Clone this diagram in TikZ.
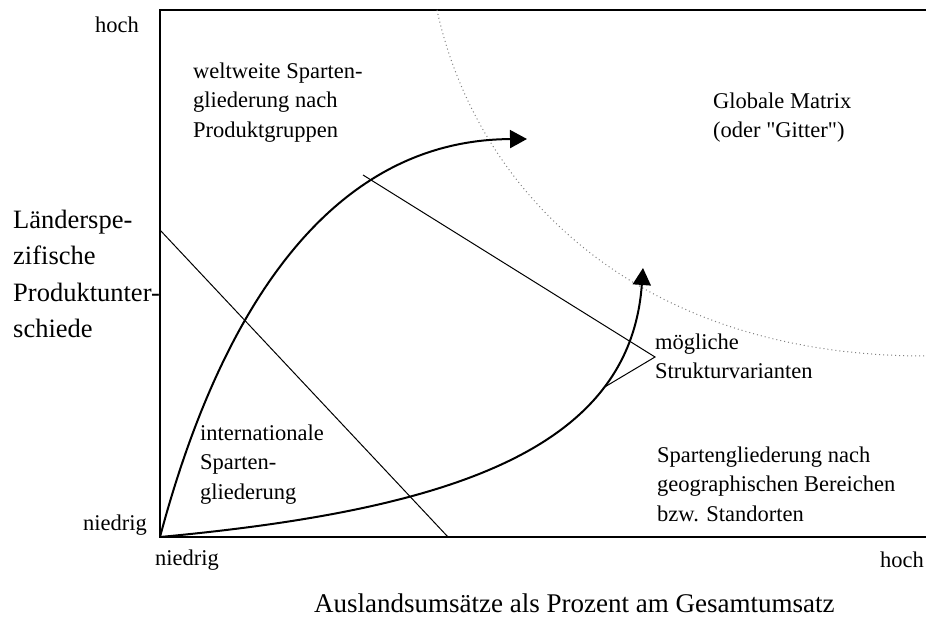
\documentclass[tikz,border=0pt]{standalone}
\usepackage{fontspec}
\setmainfont{Liberation Serif}[Ligatures=TeXOff]
\usetikzlibrary{arrows.meta}
\begin{document}
\begin{tikzpicture}[x=1pt,y=-1pt,
  axisframe/.style={line width=1.6pt},
  divider/.style={line width=1pt},
  flow/.style={line width=2pt,-{Triangle[length=17pt,width=18pt]}},
  bound/.style={gray,line width=1pt,dash pattern=on 1pt off 3pt},
  lbl/.style={inner sep=0pt,anchor=north west,align=left,font=\fontsize{22.5}{29.5}\selectfont},
  wlbl/.style={inner sep=0pt,anchor=base west,font=\fontsize{22.5}{29.5}\selectfont},
  big/.style={inner sep=0pt,anchor=north west,align=left,font=\fontsize{26.5}{36.5}\selectfont},
  bigw/.style={inner sep=0pt,anchor=base west,font=\fontsize{27}{36.5}\selectfont}]
\useasboundingbox (0,0) rectangle (926,617);

% frame
\coordinate (TR) at (926,10);
\coordinate (TL) at (160,10);
\coordinate (O) at (160,537);
\coordinate (BR) at (926,537);
\draw[axisframe] (TR) -- (TL) -- (O) -- (BR);

% dotted boundary of global matrix
\coordinate (G1) at (437,10);
\coordinate (G2) at (926,356);
\draw[bound] (G1) .. controls (475,185) and (630,356) .. (G2);

% diagonal divider
\coordinate (D1) at (160,230);
\coordinate (D2) at (448,537);
\draw[divider] (D1) -- (D2);

% arrows
\coordinate (A1) at (527,139);
\coordinate (A2) at (643,268);
\draw[flow] (O) .. controls (215,330) and (320,140) .. (A1);
\draw[flow] (O) .. controls (450,510) and (630,450) .. (A2);

% callout lines
\coordinate (C0) at (655,357);
\coordinate (C1) at (363,175);
\coordinate (C2) at (603,388);
\draw[divider] (C1) -- (C0) -- (C2);

% labels
\node[wlbl] (hochY) at (95,33) {hoch};
\node[wlbl] (niedrigY) at (83,530) {niedrig};
\node[wlbl] (niedrigX) at (155,565) {niedrig};
\node[wlbl] (hochX) at (880,567) {hoch};
\node[bigw] (xlabel) at (314,612) {Auslandsumsätze als Prozent am Gesamtumsatz};
\node[big] (ylabel) at (13,202.45) {\strut Länderspe-\\zifische\\Produktunter-\\schiede};

\node[lbl] (weltweit) at (193,57.35) {\strut weltweite Sparten-\\gliederung nach\\Produktgruppen};
\node[lbl] (global) at (713,87.35) {\strut Globale Matrix\\(oder "Gitter")};
\node[lbl] (moeglich) at (655,328.35) {\strut mögliche\\Strukturvarianten};
\node[lbl] (internat) at (200,419.35) {\strut internationale\\Sparten-\\gliederung};
\node[lbl] (geo) at (657,441.35) {\strut Spartengliederung nach\\geographischen Bereichen\\bzw. Standorten};
\end{tikzpicture}
\end{document}
